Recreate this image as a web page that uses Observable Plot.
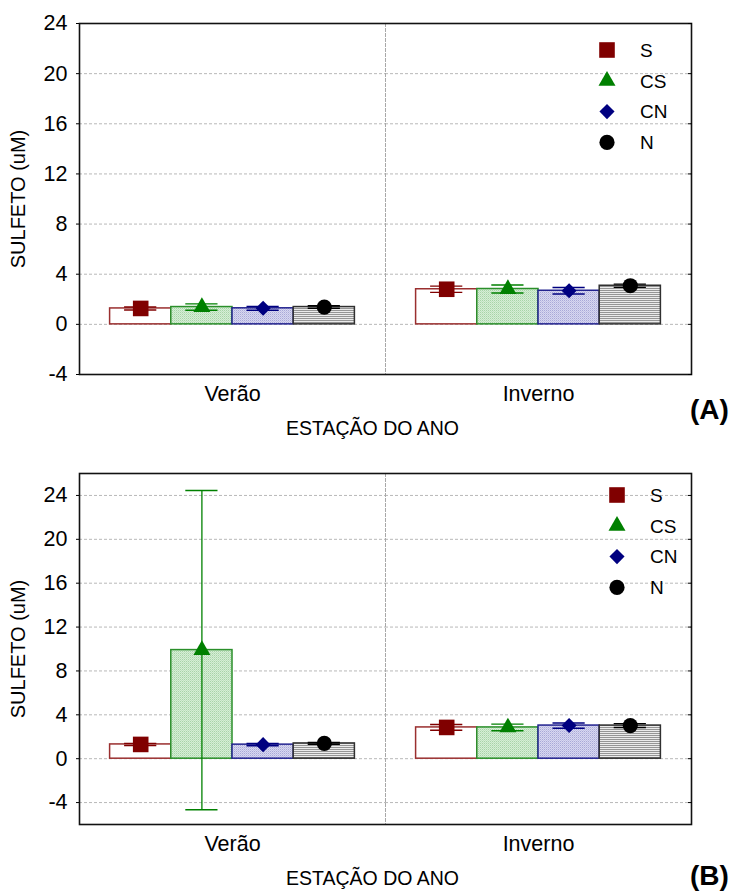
<!DOCTYPE html>
<html>
<head>
<meta charset="utf-8">
<script src="https://cdn.jsdelivr.net/npm/d3@7"></script>
<script src="https://cdn.jsdelivr.net/npm/@observablehq/plot@0.6"></script>
<style>
  body { margin: 0; background: #fff; font-family: "Liberation Sans", Arial, sans-serif; }
  .panel { position: relative; width: 737px; }
  .tag { position: absolute; font-weight: bold; font-size: 28px; line-height: 28px; }
  [aria-label="y-axis label"] { font-size: 20px !important; }
</style>
</head>
<body>
<svg width="0" height="0" style="position:absolute">
  <defs>
    <pattern id="fill-cs" width="2" height="2" patternUnits="userSpaceOnUse">
      <rect width="2" height="2" fill="#d6eed6"/>
      <rect width="1" height="1" fill="#a8d4a8"/>
      <rect x="1" y="1" width="1" height="1" fill="#c0e2c0"/>
    </pattern>
    <pattern id="fill-cn" width="2" height="2" patternUnits="userSpaceOnUse">
      <rect width="2" height="2" fill="#d8d8f0"/>
      <rect width="1" height="1" fill="#a9a9d8"/>
      <rect x="1" y="1" width="1" height="1" fill="#c2c2e6"/>
    </pattern>
    <pattern id="fill-n" width="4" height="2" patternUnits="userSpaceOnUse">
      <rect width="4" height="2" fill="#ebebeb"/>
      <rect width="4" height="1" fill="#959595"/>
    </pattern>
  </defs>
</svg>
<div id="chart"></div>
<script>
// Seasons (facets) and sampling sites (bars within each season)
const seasons = ["Verão", "Inverno"];
const sites = ["S", "CS", "CN", "N"];
const yTicks = [-4, 0, 4, 8, 12, 16, 20, 24];
const xTitle = "ESTAÇÃO DO ANO";
const yTitle = "SULFETO (uM)";

// (A) mean sulfide (uM), Verão S, CS, CN, N then Inverno S, CS, CN, N
const meanA = [1.27, 1.38, 1.28, 1.38, 2.80, 2.82, 2.68, 3.08];
const errA  = [0.12, 0.25, 0.15, 0.10, 0.25, 0.32, 0.26, 0.13];

// (B) mean sulfide (uM), same order
const meanB = [1.30, 9.90, 1.28, 1.39, 2.85, 2.85, 3.02, 3.02];
const errB  = [0.10, 14.55, 0.10, 0.08, 0.26, 0.30, 0.24, 0.18];

const siteStyle = {
  S:  {color: "#800000", stroke: "#9a2f2f", fill: "#ffffff",       symbol: "square",   r: 8.8},
  CS: {color: "#008000", stroke: "#2a8f2a", fill: "url(#fill-cs)", symbol: "triangle", r: 6.3},
  CN: {color: "#000080", stroke: "#22228f", fill: "url(#fill-cn)", symbol: "diamond2", r: 6.8},
  N:  {color: "#000000", stroke: "#303030", fill: "url(#fill-n)",  symbol: "circle",   r: 7.6}
};
const d3Symbols = {square: d3.symbolSquare, triangle: d3.symbolTriangle, diamond2: d3.symbolDiamond2, circle: d3.symbolCircle};
const fontFamily = "'Liberation Sans', Arial, sans-serif";

function rowsOf(mean, err) {
  return seasons.flatMap((season, i) =>
    sites.map((site, j) => ({season, site, mean: mean[i * 4 + j], err: err[i * 4 + j]})));
}

function panelPlot(mean, err, yDomain, height, marginTop, marginBottom) {
  const rows = rowsOf(mean, err);
  const marks = [
    Plot.gridY({ticks: yTicks, stroke: "#b8b8b8", strokeOpacity: 1, strokeDasharray: "3,2"}),
    // dashed divider between the two seasons (left edge of each facet)
    Plot.frame({anchor: "left", stroke: "#a8a8a8", strokeDasharray: "3,2"})
  ];
  for (const site of sites) {
    const s = siteStyle[site];
    const data = rows.filter(d => d.site === site);
    marks.push(Plot.barY(data, {fx: "season", x: "site", y: "mean", fill: s.fill, stroke: s.stroke, strokeWidth: 1.5}));
  }
  for (const site of sites) {
    const s = siteStyle[site];
    const data = rows.filter(d => d.site === site);
    marks.push(
      Plot.ruleX(data, {fx: "season", x: "site", y1: d => d.mean - d.err, y2: d => d.mean + d.err, stroke: s.color, strokeWidth: 1.3}),
      Plot.tickY(data, {fx: "season", x: "site", y: d => d.mean + d.err, stroke: s.color, strokeWidth: 1.4, insetLeft: 14.5, insetRight: 14.5}),
      Plot.tickY(data, {fx: "season", x: "site", y: d => d.mean - d.err, stroke: s.color, strokeWidth: 1.4, insetLeft: 14.5, insetRight: 14.5}),
      Plot.dot(data, {fx: "season", x: "site", y: "mean", symbol: () => s.symbol, r: s.r, fill: s.color, stroke: "none"})
    );
  }
  marks.push(
    Plot.frame({facet: "super", stroke: "#111", strokeWidth: 1.6}),
    Plot.axisY({anchor: "left", ticks: yTicks, tickFormat: d => String(d), tickSize: 3, tickPadding: 9,
                label: yTitle, labelAnchor: "center", labelOffset: 69, labelArrow: "none"}),
    Plot.axisY({anchor: "right", ticks: yTicks, tickSize: 4, dx: -4, tickFormat: () => "", label: null}),
    Plot.axisFx({anchor: "bottom", tickSize: 0, tickPadding: 11, label: null}),
    Plot.text([xTitle], {facet: "super", frameAnchor: "bottom", lineAnchor: "middle", dy: 54, dx: -13, fontSize: 19.5})
  );
  return Plot.plot({
    width: 737,
    height,
    marginLeft: 79,
    marginRight: 46,
    marginTop,
    marginBottom,
    style: {fontFamily, fontSize: "21.5px", background: "transparent", overflow: "visible"},
    fx: {domain: seasons, padding: 0, round: false},
    x: {domain: sites, paddingInner: 0, paddingOuter: 0.5, round: false, axis: null},
    y: {domain: yDomain},
    symbol: {type: "identity"},
    marks
  });
}

function legend(left, top) {
  const svg = d3.create("svg")
    .attr("width", 90).attr("height", 130)
    .style("position", "absolute").style("left", left + "px").style("top", top + "px")
    .style("overflow", "visible");
  sites.forEach((site, i) => {
    const s = siteStyle[site];
    const g = svg.append("g").attr("transform", `translate(12,${12 + i * 30.8})`);
    g.append("path").attr("d", d3.symbol(d3Symbols[s.symbol], Math.PI * s.r * s.r)()).attr("fill", s.color);
    g.append("text").attr("x", 33).attr("dy", "0.36em")
      .style("font-family", fontFamily).style("font-size", "19px")
      .text(site);
  });
  return svg.node();
}

function tag(text, left, top) {
  const div = document.createElement("div");
  div.className = "tag";
  div.style.left = left + "px";
  div.style.top = top + "px";
  div.textContent = text;
  return div;
}

const root = document.getElementById("chart");

const panelA = document.createElement("div");
panelA.className = "panel";
panelA.style.height = "445px";
panelA.append(panelPlot(meanA, errA, [-4, 24], 445, 23, 71), legend(595, 38), tag("(A)", 690, 396));

const panelB = document.createElement("div");
panelB.className = "panel";
panelB.style.height = "446px";
panelB.append(panelPlot(meanB, errB, [-6, 26], 446, 28, 67), legend(605, 38), tag("(B)", 690, 417));

root.append(panelA, panelB);
</script>
</body>
</html>
